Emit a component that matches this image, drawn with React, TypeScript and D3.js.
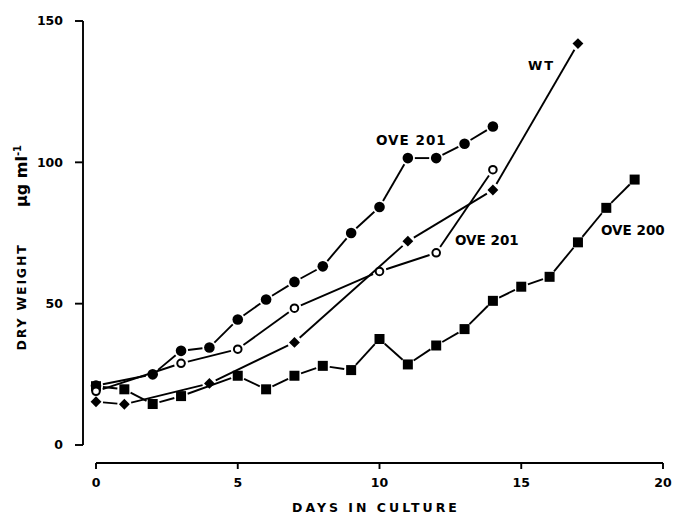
import React from "react";
import * as d3 from "d3";

const W = 673;
const H = 514;

// OVE 201 (filled circles)
const filledDays = [0, 2, 3, 4, 5, 6, 7, 8, 9, 10, 11, 12, 13, 14];
const filledVals = [21, 25, 33.3, 34.5, 44.4, 51.5, 57.7, 63.2, 75, 84.2, 101.5, 101.5, 106.6, 112.7];

// OVE 201 (open circles)
const openDays = [0, 3, 5, 7, 10, 12, 14];
const openVals = [19, 28.9, 33.9, 48.4, 61.4, 68, 97.4];

// WT (diamonds)
const wtDays = [0, 1, 4, 7, 11, 14, 17];
const wtVals = [15.3, 14.4, 21.8, 36.3, 72.1, 90.2, 142];

// OVE 200 (squares)
const sqDays = [0, 1, 2, 3, 5, 6, 7, 8, 9, 10, 11, 12, 13, 14, 15, 16, 17, 18, 19];
const sqVals = [20.8, 19.7, 14.5, 17.3, 24.5, 19.7, 24.5, 28, 26.5, 37.5, 28.5, 35.2, 41, 51, 56, 59.5, 71.7, 83.9, 93.9];

const xTicks = [0, 5, 10, 15, 20];
const yTicks = [0, 50, 100, 150];

const FONT = "'DejaVu Sans', sans-serif";

const x = d3.scaleLinear().domain([0, 20]).range([96, 663]);
const y = d3.scaleLinear().domain([0, 150]).range([445, 21]);

type Pt = [number, number];

function zip(days: number[], vals: number[]): Pt[] {
  return days.map((d, i) => [x(d), y(vals[i])] as Pt);
}

function Segments({ pts, gap }: { pts: Pt[]; gap: number }) {
  const segs = [];
  for (let i = 0; i < pts.length - 1; i++) {
    const [x1, y1] = pts[i];
    const [x2, y2] = pts[i + 1];
    const dx = x2 - x1;
    const dy = y2 - y1;
    const len = Math.hypot(dx, dy);
    if (len <= 2 * gap) continue;
    const ux = dx / len;
    const uy = dy / len;
    const line = d3.line();
    segs.push(
      <path
        key={i}
        d={line([
          [x1 + ux * gap, y1 + uy * gap],
          [x2 - ux * gap, y2 - uy * gap],
        ]) as string}
        stroke="#000"
        strokeWidth={1.9}
        fill="none"
      />
    );
  }
  return <g>{segs}</g>;
}

export default function App() {
  const filled = zip(filledDays, filledVals);
  const open = zip(openDays, openVals);
  const wt = zip(wtDays, wtVals);
  const sq = zip(sqDays, sqVals);
  const diamond = d3.symbol().type(d3.symbolDiamond2).size(75)() as string;

  return (
    <svg
      width={W}
      height={H}
      style={{ position: "absolute", left: 0, top: 0, background: "#fff" }}
      fontFamily={FONT}
    >
      <rect width={W} height={H} fill="#fff" />
      {/* Y axis */}
      <line x1={83} x2={83} y1={y(150)} y2={y(0)} stroke="#000" strokeWidth={1.9} />
      {yTicks.map((t) => (
        <g key={t}>
          <line x1={75} x2={83} y1={y(t)} y2={y(t)} stroke="#000" strokeWidth={1.9} />
          <text
            x={63}
            y={y(t)}
            dy="0.35em"
            textAnchor="end"
            fontSize={12.5}
            fontWeight="bold"
          >
            {t}
          </text>
        </g>
      ))}
      {/* X axis */}
      <line x1={x(0)} x2={x(20)} y1={463} y2={463} stroke="#000" strokeWidth={1.9} />
      {xTicks.map((t) => (
        <g key={t}>
          <line x1={x(t)} x2={x(t)} y1={463} y2={469} stroke="#000" strokeWidth={1.9} />
          <text x={x(t)} y={487} textAnchor="middle" fontSize={12.5} fontWeight="bold">
            {t}
          </text>
        </g>
      ))}
      <text
        x={376}
        y={512}
        textAnchor="middle"
        fontSize={12.5}
        fontWeight="bold"
        letterSpacing={3}
      >
        DAYS IN CULTURE
      </text>
      {/* Y label */}
      <text
        transform="translate(26,297) rotate(-90)"
        textAnchor="middle"
        fontSize={12.5}
        fontWeight="bold"
        letterSpacing={1.8}
      >
        DRY WEIGHT
      </text>
      <text
        transform="translate(27,176) rotate(-90)"
        textAnchor="middle"
        fontSize={16}
        fontWeight="bold"
      >
        μg ml
        <tspan dy={-6} fontSize={10}>
          -1
        </tspan>
      </text>

      {/* Lines */}
      <Segments pts={filled} gap={7} />
      <Segments pts={open} gap={7} />
      <Segments pts={wt} gap={7} />
      <Segments pts={sq} gap={7} />

      {/* Markers */}
      {sq.map(([px, py], i) => (
        <rect key={"s" + i} x={px - 5} y={py - 5} width={10} height={10} fill="#000" />
      ))}
      {wt.map(([px, py], i) => (
        <path key={"w" + i} d={diamond} transform={`translate(${px},${py})`} fill="#000" />
      ))}
      {filled.map(([px, py], i) => (
        <circle key={"f" + i} cx={px} cy={py} r={5.3} fill="#000" />
      ))}
      {open.map(([px, py], i) => (
        <circle key={"o" + i} cx={px} cy={py} r={3.8} fill="#fff" stroke="#000" strokeWidth={2} />
      ))}

      {/* Series labels */}
      <text x={376} y={145} fontSize={13.5} fontWeight="bold" letterSpacing={1}>
        OVE 201
      </text>
      <text x={528} y={70} fontSize={13} fontWeight="bold" letterSpacing={2}>
        WT
      </text>
      <text x={455} y={245} fontSize={13.5} fontWeight="bold">
        OVE 201
      </text>
      <text x={601} y={235} fontSize={13.5} fontWeight="bold">
        OVE 200
      </text>
    </svg>
  );
}
